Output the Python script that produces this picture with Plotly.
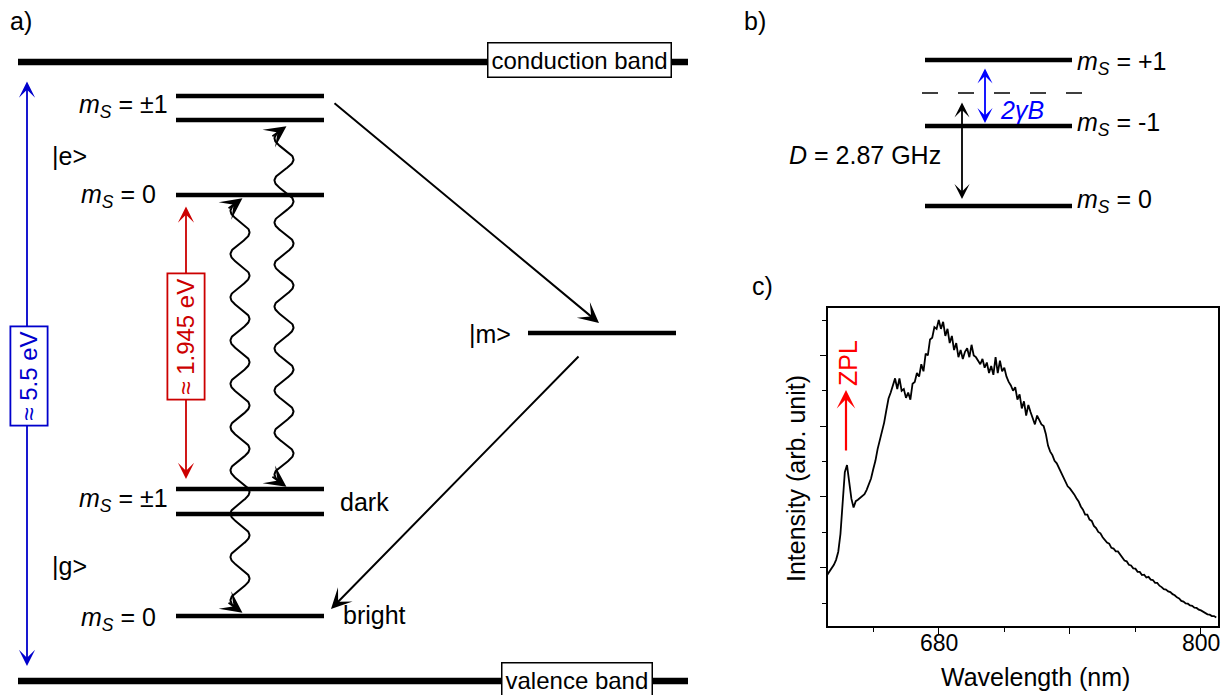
import numpy as np
import plotly.graph_objects as go

W, H = 1228, 695
FONT = "Liberation Sans, Arial, sans-serif"

# ---------------- data: panel c spectrum ----------------
wavelength_nm = [629, 630, 631, 632, 633, 634, 635, 636, 637, 638, 639, 640, 641, 642, 643, 644, 645, 646, 647, 648,
                 649, 650, 651, 652, 653, 654, 655, 656, 657, 658, 659, 660, 661, 662, 663, 664, 665, 666, 667, 668,
                 669, 670, 671, 672, 673, 674, 675, 676, 677, 678, 679, 680, 681, 682, 683, 684, 685, 686, 687, 688,
                 689, 690, 691, 692, 693, 694, 695, 696, 697, 698, 699, 700, 701, 702, 703, 704, 705, 706, 707, 708,
                 709, 710, 711, 712, 713, 714, 715, 716, 717, 718, 719, 720, 721, 722, 723, 724, 725, 726, 727, 728,
                 729, 730, 731, 732, 733, 734, 735, 736, 737, 738, 739, 740, 741, 742, 743, 744, 745, 746, 747, 748,
                 749, 750, 751, 752, 753, 754, 755, 756, 757, 758, 759, 760, 761, 762, 763, 764, 765, 766, 767, 768,
                 769, 770, 771, 772, 773, 774, 775, 776, 777, 778, 779, 780, 781, 782, 783, 784, 785, 786, 787, 788,
                 789, 790, 791, 792, 793, 794, 795, 796, 797, 798, 799, 800, 801, 802, 803, 804, 805, 806, 807]
intensity = [1.80, 1.90, 2.00, 2.08, 2.22, 2.45, 2.95, 3.80, 4.70, 4.90, 4.35, 3.95, 3.70, 3.88, 3.92, 3.97, 4.02, 4.08, 4.20, 4.35,
             4.52, 4.78, 5.02, 5.35, 5.60, 5.88, 6.10, 6.45, 6.78, 6.95, 7.15, 7.35, 7.05, 7.35, 7.00, 7.05, 6.80, 6.95, 6.75, 7.20,
             7.25, 7.50, 7.40, 7.75, 7.55, 8.05, 8.00, 8.45, 8.50, 8.80, 8.75, 9.00, 8.75, 8.95, 8.55, 8.75, 8.35, 8.55, 8.15, 8.35,
             7.95, 8.15, 7.90, 8.10, 8.20, 7.95, 8.30, 8.00, 7.95, 7.85, 7.75, 7.90, 7.65, 7.80, 7.50, 7.70, 7.45, 7.95, 7.50, 7.85,
             7.55, 7.65, 7.40, 7.25, 7.15, 7.00, 7.10, 6.75, 6.90, 6.50, 6.70, 6.30, 6.60, 6.40, 6.25, 6.05, 6.30, 6.15, 6.05, 6.00,
             5.78, 5.45, 5.28, 5.18, 5.02, 4.95, 4.82, 4.68, 4.52, 4.42, 4.30, 4.24, 4.16, 4.07, 3.96, 3.87, 3.73, 3.64, 3.50, 3.50,
             3.36, 3.32, 3.18, 3.12, 3.01, 2.97, 2.86, 2.80, 2.71, 2.68, 2.56, 2.54, 2.46, 2.46, 2.36, 2.30, 2.20, 2.18, 2.08, 2.06,
             1.98, 1.97, 1.88, 1.88, 1.79, 1.80, 1.72, 1.74, 1.66, 1.65, 1.57, 1.57, 1.49, 1.45, 1.39, 1.38, 1.33, 1.31, 1.25, 1.22,
             1.16, 1.13, 1.06, 1.04, 0.99, 0.98, 0.93, 0.92, 0.87, 0.86, 0.81, 0.79, 0.75, 0.73, 0.68, 0.67, 0.63, 0.63, 0.59]
x_major_ticks = [680, 740, 800]
x_major_labels = ["680", "", "800"]
x_minor_ticks = [650, 710, 770]
y_major_ticks = [2, 4, 6, 8]
y_minor_ticks = [1, 3, 5, 7, 9]

# ---------------- schematic (panels a, b) in page units ----------------
band_y = {"conduction band": 62, "valence band": 681}
excited_levels_y = [96, 120, 195]
ground_levels_y = [489, 514, 616]
metastable_level_y = 333
b_levels = {"+1": 60, "-1": 126, "0": 206}
b_dashed_y = 93

fig = go.Figure()

# spectrum
fig.add_trace(go.Scatter(x=wavelength_nm, y=intensity, mode="lines",
                         line=dict(color="black", width=1.8), xaxis="x2", yaxis="y2",
                         hoverinfo="skip"))

shapes = []
def hline(x0, x1, y, w=4.5, dash=None, color="black"):
    ln = dict(color=color, width=w)
    if dash:
        ln["dash"] = dash
    shapes.append(dict(type="line", xref="x", yref="y", x0=x0, x1=x1, y0=y, y1=y, line=ln, layer="below"))

# bands
for name, y in band_y.items():
    hline(18, 688, y, w=6.5)
# excited and ground levels
for y in excited_levels_y + ground_levels_y:
    hline(176, 324, y, w=4.5)
hline(528, 676, metastable_level_y, w=4.5)
# panel b levels
for y in b_levels.values():
    hline(925, 1072, y, w=4.5)
hline(922, 1082, b_dashed_y, w=1.5, dash="16px,20px")

anns = []
def text(x, y, s, xanchor="center", size=25, color="black", **kw):
    d = dict(x=x, y=y, xref="x", yref="y", text=s, showarrow=False, xanchor=xanchor, yanchor="middle",
             font=dict(family=FONT, size=size, color=color))
    d.update(kw)
    anns.append(d)

def arrow(x0, y0, x1, y1, color="black", width=1.8, double=False, size=1.6):
    d = dict(x=x1, y=y1, ax=x0, ay=y0, xref="x", yref="y", axref="x", ayref="y", text="",
             showarrow=True, arrowhead=3, arrowsize=size, arrowwidth=width, arrowcolor=color,
             standoff=0, startstandoff=0)
    if double:
        d.update(arrowside="end+start", startarrowhead=3, startarrowsize=size)
    anns.append(d)

MS = "<i>m</i><sub><i>S</i></sub>"

# panel labels
text(21, 21, "a)")
text(755, 21, "b)")
text(762, 286, "c)")

# band boxes
box = dict(bordercolor="black", borderwidth=1.5, borderpad=3, bgcolor="white")
text(579, 60, "conduction band", size=24, **box)
text(577, 680, "valence band", size=24, **box)

# panel a labels
text(170, 106, MS + " = ±1", xanchor="right")
text(50, 156, "|e>", xanchor="left")
text(158, 196, MS + " = 0", xanchor="right")
text(170, 500, MS + " = ±1", xanchor="right")
text(338, 502, "dark", xanchor="left")
text(50, 566, "|g>", xanchor="left")
text(158, 619, MS + " = 0", xanchor="right")
text(341, 615, "bright", xanchor="left")
text(467, 334, "|m>", xanchor="left")

# big arrows panel a
arrow(27, 80, 27, 666, color="#0000cc", width=1.8, double=True, size=1.5)
text(28.5, 376, "≈ 5.5 eV", size=24, color="#0000cc", textangle=-90,
     bordercolor="#0000cc", borderwidth=1.8, borderpad=4, bgcolor="white")
arrow(186, 205, 186, 479, color="#cc0000", width=1.8, double=True, size=1.5)
text(185.5, 337, "≈ 1.945 eV", size=24, color="#cc0000", textangle=-90,
     bordercolor="#cc0000", borderwidth=1.8, borderpad=4, bgcolor="white")
arrow(333, 102, 599, 323, width=2, size=1.7)
arrow(580, 355, 331, 609, width=2, size=1.7)

# wavy arrows (decorative sine path, heads along the end tangent)
def wavy(cx, y_top, y_bot, n_half, amp=9.5, head_len=16):
    L = y_bot - y_top
    P = L / (n_half + 0.5)
    kk = 2 * np.pi / P
    ys = np.linspace(y_top, y_bot, 600)
    xs = cx - amp * np.sin(kk * (ys - y_top))
    fig.add_trace(go.Scatter(x=xs, y=ys, mode="lines", line=dict(color="black", width=2),
                             xaxis="x", yaxis="y", hoverinfo="skip"))
    slope = amp * kk  # |dx/dy| at both ends
    norm = np.hypot(slope, 1.0)
    # top end: travelling up and to the right
    ux, uy = slope / norm, -1.0 / norm
    arrow(xs[0] - head_len * ux, ys[0] - head_len * uy, xs[0] + 3 * ux, ys[0] + 3 * uy,
          width=1.8, size=2.0)
    # bottom end: travelling down and to the right
    ux, uy = slope / norm, 1.0 / norm
    arrow(xs[-1] - head_len * ux, ys[-1] - head_len * uy, xs[-1] + 3 * ux, ys[-1] + 3 * uy,
          width=1.8, size=2.0)

wavy(240, 200, 611, 9)
wavy(284, 128, 485, 8)

# panel b
text(1075, 63, MS + " = +1", xanchor="left")
text(1075, 124, MS + " = -1", xanchor="left")
text(1075, 201, MS + " = 0", xanchor="left")
arrow(985, 67, 985, 123, color="#0000ff", double=True, size=1.4)
text(998, 110, "<i>2γB</i>", xanchor="left", color="#0000ff")
arrow(962, 101, 962, 199, double=True, size=1.4)
text(865, 155, "<i>D</i> = 2.87 GHz")

# panel c extras
arrow(846, 452, 846, 390, color="#ff0000", width=2.2, size=1.4)
text(848, 363, "ZPL", color="#ff0000", textangle=-90)
text(796, 479, "Intensity (arb. unit)", textangle=-90)
text(1035, 677, "Wavelength (nm)")
# x tick labels placed at their axis values
for v, lab in zip(x_major_ticks, x_major_labels):
    if lab:
        anns.append(dict(x=v, y=643, xref="x2", yref="y", text=lab, showarrow=False,
                         xanchor="center", yanchor="middle",
                         font=dict(family=FONT, size=23, color="black")))

axis_c = dict(showline=True, linecolor="black", linewidth=1.8, mirror=True, showgrid=False,
              zeroline=False, ticks="outside", tickcolor="black", tickwidth=1.2, fixedrange=True)

fig.update_layout(
    width=W, height=H, margin=dict(l=0, r=0, t=0, b=0),
    paper_bgcolor="white", plot_bgcolor="rgba(0,0,0,0)", showlegend=False,
    xaxis=dict(domain=[0, 1], range=[0, W], visible=False, fixedrange=True),
    yaxis=dict(domain=[0, 1], range=[H, 0], visible=False, fixedrange=True),
    xaxis2=dict(domain=[828 / W, 1218 / W], anchor="y2", range=[629.3, 807.8],
                tickmode="array", tickvals=x_major_ticks, showticklabels=False, ticklen=6,
                minor=dict(tickmode="array", tickvals=x_minor_ticks, ticklen=4, ticks="outside",
                           tickcolor="black", tickwidth=1.2),
                **axis_c),
    yaxis2=dict(domain=[1 - 626 / H, 1 - 308 / H], anchor="x2", range=[0.35, 9.34],
                tickmode="array", tickvals=y_major_ticks, showticklabels=False, ticklen=6,
                minor=dict(tickmode="array", tickvals=y_minor_ticks, ticklen=4, ticks="outside",
                           tickcolor="black", tickwidth=1.2),
                **axis_c),
    shapes=shapes, annotations=anns,
)

fig.write_html("out.html")
